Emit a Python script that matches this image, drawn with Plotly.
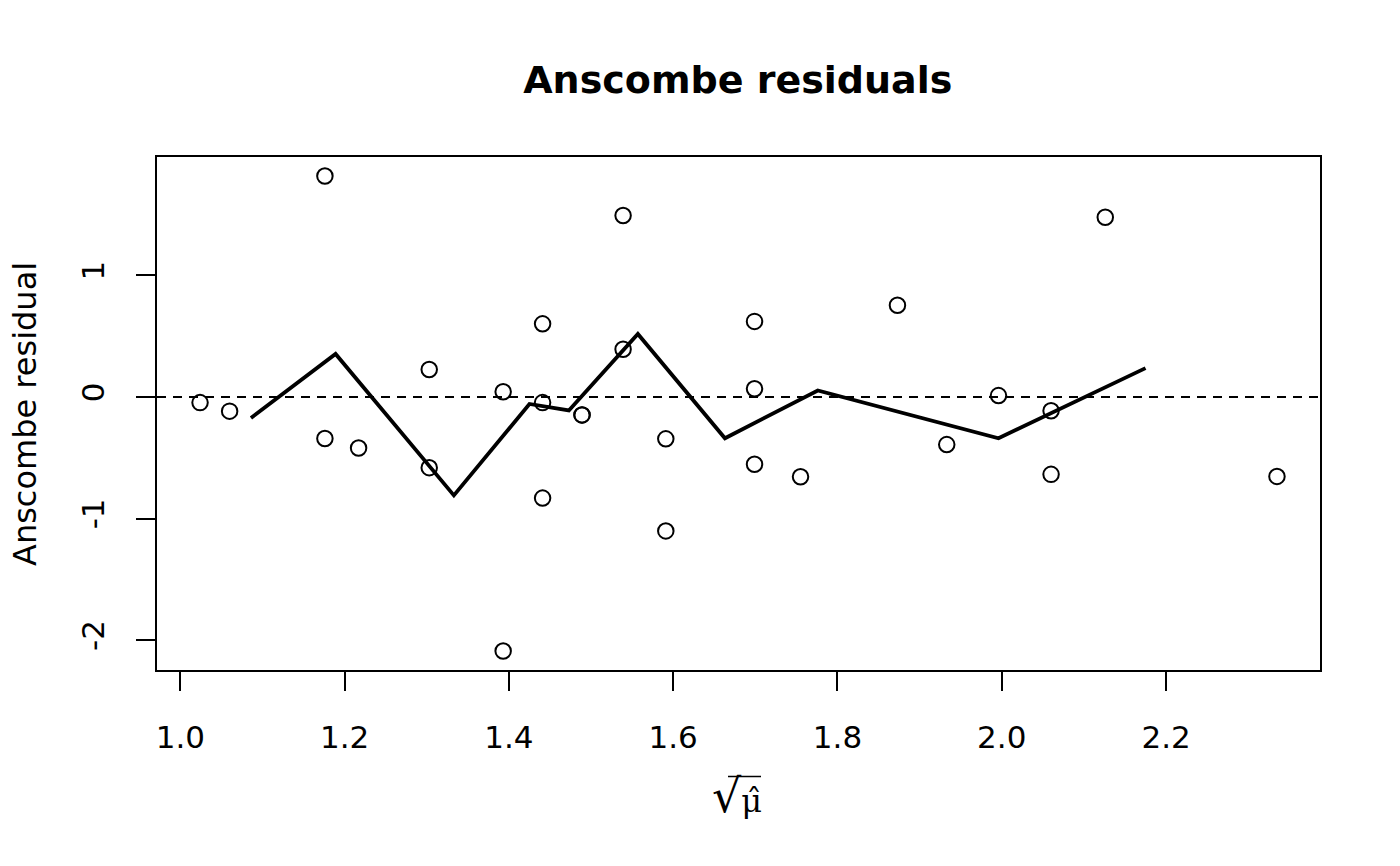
import plotly.graph_objects as go

# fitted values (sqrt scale) and Anscombe residuals
sqrt_mu = [1.024, 1.060, 1.176, 1.176, 1.217, 1.303, 1.303, 1.393, 1.393,
           1.441, 1.441, 1.441, 1.489, 1.489, 1.539, 1.539, 1.591, 1.591,
           1.699, 1.699, 1.699, 1.755, 1.873, 1.933, 1.996, 2.060, 2.060,
           2.126, 2.335]
resid = [-0.047, -0.117, 1.817, -0.342, -0.420, 0.225, -0.582, 0.042, -2.090,
         0.601, -0.047, -0.832, -0.148, -0.148, 1.492, 0.392, -0.345, -1.102,
         0.621, 0.067, -0.554, -0.657, 0.754, -0.392, 0.011, -0.114, -0.637,
         1.478, -0.654]

# smoothed line
smooth_x = [1.086, 1.189, 1.333, 1.425, 1.473, 1.557, 1.663, 1.776, 1.996, 2.175]
smooth_y = [-0.173, 0.353, -0.810, -0.058, -0.111, 0.518, -0.340, 0.053, -0.340, 0.237]

x_ticks = [1.0, 1.2, 1.4, 1.6, 1.8, 2.0, 2.2]
x_tick_labels = ["1.0", "1.2", "1.4", "1.6", "1.8", "2.0", "2.2"]
y_ticks = [-2, -1, 0, 1]
y_tick_labels = ["-2", "-1", "0", "1"]

x_range = [0.9716, 2.3874]
y_range = [-2.246, 1.973]

FONT = "DejaVu Sans"
SERIF = "DejaVu Serif"

L, R, T, B = 157, 80, 157, 196
PW, PH = 1400 - L - R, 866 - T - B

fig = go.Figure()

fig.add_trace(go.Scatter(
    x=x_range, y=[0, 0], mode="lines",
    line=dict(color="black", width=2, dash="9px,7px"),
    hoverinfo="skip", showlegend=False))

fig.add_trace(go.Scatter(
    x=smooth_x, y=smooth_y, mode="lines",
    line=dict(color="black", width=3.8),
    showlegend=False))

fig.add_trace(go.Scatter(
    x=sqrt_mu, y=resid, mode="markers",
    marker=dict(symbol="circle-open", size=15.5, color="black",
                line=dict(color="black", width=2)),
    showlegend=False))

fig.update_layout(
    width=1400, height=866,
    margin=dict(l=L, r=R, t=T, b=B),
    paper_bgcolor="white", plot_bgcolor="white",
    font=dict(family=FONT, size=32, color="black"),
    title=dict(text="<b>Anscombe residuals</b>", x=0.527, xanchor="center",
               y=1 - 80 / 866, yanchor="middle", yref="container",
               font=dict(family=FONT, size=38, color="black")),
    showlegend=False,
)

fig.update_xaxes(
    range=x_range, showgrid=False, zeroline=False,
    showline=True, mirror=True, linecolor="black", linewidth=2,
    tickmode="array", tickvals=x_ticks, ticktext=x_tick_labels,
    ticks="outside", ticklen=19, tickwidth=2, tickcolor="black",
    ticklabelstandoff=20,
    tickfont=dict(family=FONT, size=31, color="black"),
)
fig.update_yaxes(
    range=y_range, showgrid=False, zeroline=False,
    showline=True, mirror=True, linecolor="black", linewidth=2,
    tickmode="array", tickvals=y_ticks, ticktext=y_tick_labels,
    ticks="outside", ticklen=19, tickwidth=2, tickcolor="black",
    tickangle=-90, ticklabelstandoff=20,
    tickfont=dict(family=FONT, size=31, color="black"),
)

# y axis title
fig.add_annotation(text="Anscombe residual", xref="paper", yref="paper",
                   x=-(L - 25) / PW, y=(670 - 414) / PH,
                   xanchor="center", yanchor="middle", textangle=-90,
                   showarrow=False, font=dict(family=FONT, size=32, color="black"))

# x axis title: sqrt(hat(mu)) as one text, plus the radical's overline
fig.add_annotation(text="<span style='font-size:46px'>√</span>μ̂",
                   xref="paper", yref="paper",
                   x=(737 - L) / PW, y=-(796 - 670) / PH,
                   xanchor="center", yanchor="middle",
                   showarrow=False, font=dict(family=SERIF, size=32, color="black"))
fig.add_shape(type="line", xref="paper", yref="paper",
              x0=(728 - L) / PW, x1=(761 - L) / PW,
              y0=-(776.5 - 670) / PH, y1=-(776.5 - 670) / PH,
              line=dict(color="black", width=1.5))

fig.write_html("out.html", config={"displayModeBar": False},
               post_script="document.body.style.margin='0';")
